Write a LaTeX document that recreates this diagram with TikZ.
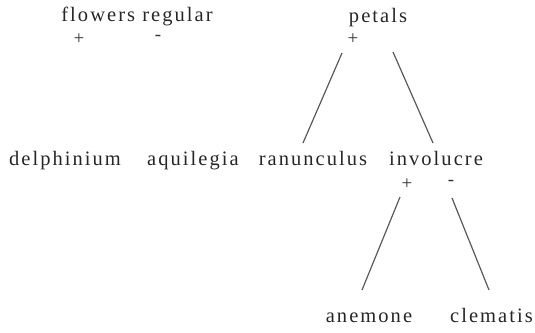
\documentclass[tikz,border=0pt]{standalone}
\usepackage{fontspec}
\setmainfont{Liberation Serif}[LetterSpace=10]
\begin{document}
\begin{tikzpicture}[x=1pt,y=-1pt,
  word/.style={anchor=base,inner sep=0pt,font=\fontsize{20.5}{24}\selectfont,text=black!85},
  sign/.style={anchor=center,inner sep=0pt,font=\fontsize{19}{21}\selectfont,text=black!80},
  branch/.style={draw=black!65,line width=1.2pt}]
\useasboundingbox (0,0) rectangle (535,332);

% first tree: attribute and its two outcomes
\node[word] (flowers) at (137,21) {flowers regular};
\node[sign] (fplus) at (79,39) {+};
\node[sign] (fminus) at (158,38) {-};

% second tree: root
\node[word] (petals) at (378,22) {petals};
\node[sign] (pplus) at (353,39) {+};

% middle row of labels
\node[word] (delphinium) at (65,165) {delphinium};
\node[word] (aquilegia) at (193,165) {aquilegia};
\node[word] (ranunculus) at (313,165) {ranunculus};
\node[word] (involucre) at (436,165) {involucre};
\node[sign] (iplus) at (407,184) {+};
\node[sign] (iminus) at (451,183) {-};

% leaves
\node[word] (anemone) at (369,322) {anemone};
\node[word,anchor=base east] (clematis) at (533,322) {clematis};

% branch end points
\coordinate (p-l) at (342,53);
\coordinate (r-t) at (303,143);
\coordinate (p-r) at (393,52);
\coordinate (i-t) at (433,143);
\coordinate (i-l) at (400,197);
\coordinate (a-t) at (362,290);
\coordinate (i-r) at (452,198);
\coordinate (c-t) at (489,290);

\draw[branch] (p-l) -- (r-t);
\draw[branch] (p-r) -- (i-t);
\draw[branch] (i-l) -- (a-t);
\draw[branch] (i-r) -- (c-t);
\end{tikzpicture}
\end{document}
